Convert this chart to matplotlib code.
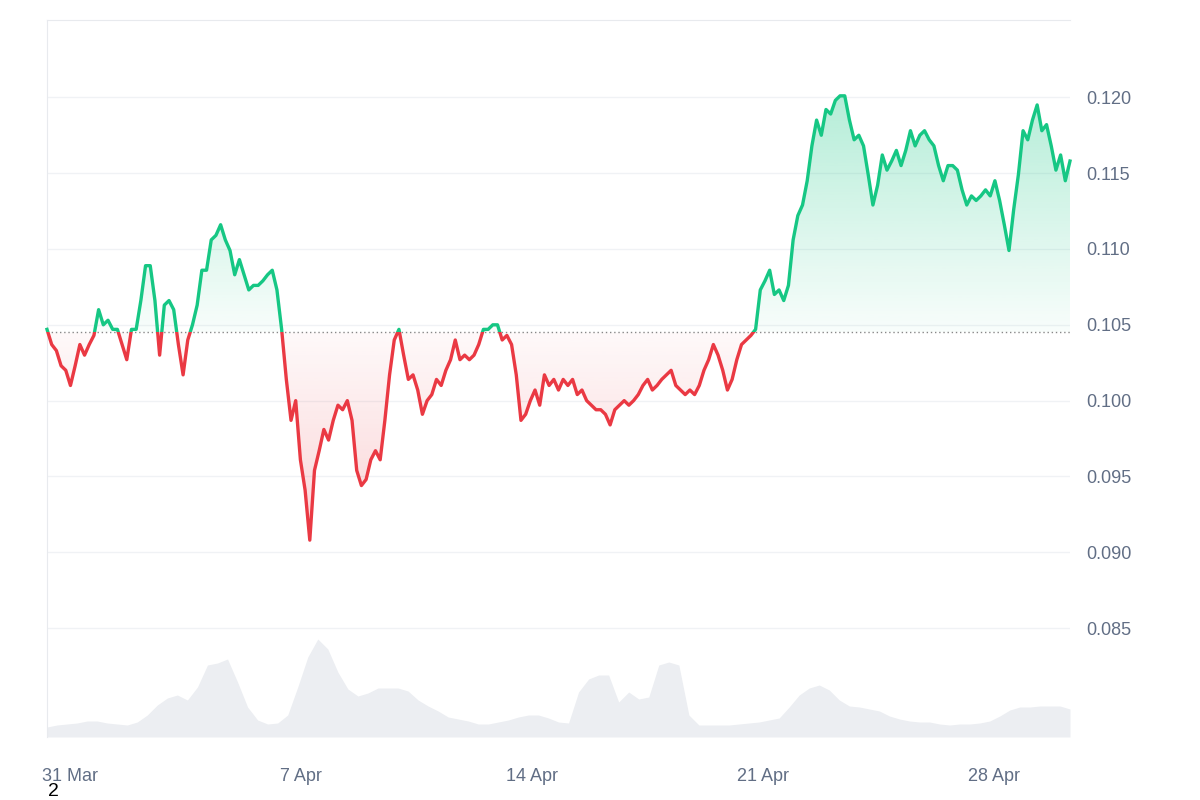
import numpy as np
import matplotlib
matplotlib.use("Agg")
import matplotlib.pyplot as plt
from matplotlib.patches import Rectangle
from matplotlib.colors import LinearSegmentedColormap
from matplotlib.path import Path

plt.rcParams['font.family'] = ['Liberation Sans', 'DejaVu Sans']

price_mils = [104.7,103.7,103.3,102.3,102.0,101.0,102.3,103.7,103.0,103.7,104.3,106.0,105.0,105.3,104.7,104.7,103.7,102.7,104.7,104.7,
106.6,108.9,108.9,106.6,103.0,106.3,106.6,106.0,103.7,101.7,104.0,105.0,106.3,108.6,108.6,110.6,110.9,111.6,110.6,109.9,
108.3,109.3,108.3,107.3,107.6,107.6,107.9,108.3,108.6,107.3,104.7,101.4,98.7,100.0,96.1,94.1,90.8,95.4,96.7,98.1,
97.4,98.7,99.7,99.4,100.0,98.7,95.4,94.4,94.8,96.1,96.7,96.1,98.7,101.7,104.0,104.7,103.0,101.4,101.7,100.7,
99.1,100.0,100.4,101.4,101.0,102.0,102.7,104.0,102.7,103.0,102.7,103.0,103.7,104.7,104.7,105.0,105.0,104.0,104.3,103.7,
101.7,98.7,99.1,100.0,100.7,99.7,101.7,101.0,101.4,100.7,101.4,101.0,101.4,100.4,100.7,100.0,99.7,99.4,99.4,99.1,
98.4,99.4,99.7,100.0,99.7,100.0,100.4,101.0,101.4,100.7,101.0,101.4,101.7,102.0,101.0,100.7,100.4,100.7,100.4,101.0,
102.0,102.7,103.7,103.0,102.0,100.7,101.4,102.7,103.7,104.0,104.3,104.7,107.3,107.9,108.6,107.0,107.3,106.6,107.6,110.6,
112.2,112.9,114.5,116.8,118.5,117.5,119.2,118.9,119.8,120.1,120.1,118.5,117.2,117.5,116.8,114.9,112.9,114.2,116.2,115.2,
115.8,116.5,115.5,116.5,117.8,116.8,117.5,117.8,117.2,116.8,115.5,114.5,115.5,115.5,115.2,113.9,112.9,113.5,113.2,113.5,
113.9,113.5,114.5,113.2,111.6,109.9,112.6,114.9,117.8,117.2,118.5,119.5,117.8,118.2,116.8,115.2,116.2,114.5,115.8]
volume = [10,12,13,14,16,16,14,13,12,15,22,32,39,42,37,50,72,74,78,55,30,17,13,14,22,50,80,98,88,65,48,41,44,49,49,49,46,37,31,26,
20,18,16,13,13,15,17,20,22,22,19,15,14,45,58,62,62,35,45,38,40,72,75,72,22,12,12,12,12,13,14,15,17,19,30,42,49,52,47,37,
31,30,28,26,21,18,16,15,15,13,12,13,13,14,16,21,27,30,30,31,31,31,28]
baseline = 0.1045
tick_days = [0, 7, 14, 21, 28]
tick_labels = ["31 Mar", "7 Apr", "14 Apr", "21 Apr", "28 Apr"]
y_ticks = [0.085, 0.090, 0.095, 0.100, 0.105, 0.110, 0.115, 0.120]

price = np.array(price_mils) / 1000.0
t = np.linspace(-0.7, 30.3, len(price))
tv = np.linspace(-0.7, 30.3, len(volume))
x0, x1 = -0.7, 30.3
ymin, ymax = 0.07782, 0.1251

fig = plt.figure(figsize=(12, 8), dpi=100)
pos = [47/1200, 63/800, 1023/1200, 717/800]
axv = fig.add_axes(pos)
axv.fill_between(tv, 0, volume, color="#eceef2", lw=0)
axv.set_xlim(x0, x1); axv.set_ylim(0, 717)
axv.axis("off")

ax = fig.add_axes(pos)
ax.patch.set_visible(False)
ax.set_xlim(x0, x1); ax.set_ylim(ymin, ymax)
for y in y_ticks:
    ax.axhline(y, color="#f0f2f5", lw=1, zorder=0)

def grad_fill(where, rgb, top_alpha, lo, hi, strong_at_hi):
    poly = ax.fill_between(t, baseline, price, where=where, interpolate=True, color="none", lw=0)
    cmap = LinearSegmentedColormap.from_list("g", [(*rgb, 0.03), (*rgb, top_alpha)])
    grad = np.linspace(0, 1, 256).reshape(-1, 1)
    if not strong_at_hi:
        grad = grad[::-1]
    im = ax.imshow(grad, cmap=cmap, extent=[x0, x1, lo, hi], origin="lower", aspect="auto", zorder=1)
    verts = []; codes = []
    for p in poly.get_paths():
        verts.extend(p.vertices)
        codes.extend(p.codes if p.codes is not None else [Path.MOVETO] + [Path.LINETO]*(len(p.vertices)-1))
    im.set_clip_path(Path(np.array(verts), codes), transform=ax.transData)

g = (0x16/255, 0xc7/255, 0x84/255)
r = (0xea/255, 0x39/255, 0x43/255)
grad_fill(price >= baseline, g, 0.32, baseline, 0.1202, True)
grad_fill(price <= baseline, r, 0.22, 0.0908, baseline, False)
ax.set_xlim(x0, x1); ax.set_ylim(ymin, ymax)

lg, = ax.plot(t, price, color="#16c784", lw=2.4, zorder=3)
lr, = ax.plot(t, price, color="#ea3943", lw=2.4, zorder=3)
lg.set_clip_path(Rectangle((-1, baseline), 40, 1, transform=ax.transData))
lr.set_clip_path(Rectangle((-1, 0), 40, baseline, transform=ax.transData))
ax.axhline(baseline, color="#888", lw=1, ls=(0, (1, 2)), zorder=2)

ax.yaxis.tick_right()
ax.set_yticks(y_ticks)
ax.set_yticklabels([f"{v:.3f}" for v in y_ticks])
ax.set_xticks(tick_days)
ax.set_xticklabels(tick_labels)
ax.tick_params(length=0, labelsize=13, colors="#616e85")
ax.tick_params(axis="x", pad=22)
ax.tick_params(axis="y", pad=12)
for s in ["bottom", "right"]:
    ax.spines[s].set_visible(False)
for s in ["left", "top"]:
    ax.spines[s].set_color("#e8eaee")
fig.text(53/1200, 1 - 792/800, "2", fontsize=14, color="black", ha="center", va="center")
fig.savefig("out.png")
